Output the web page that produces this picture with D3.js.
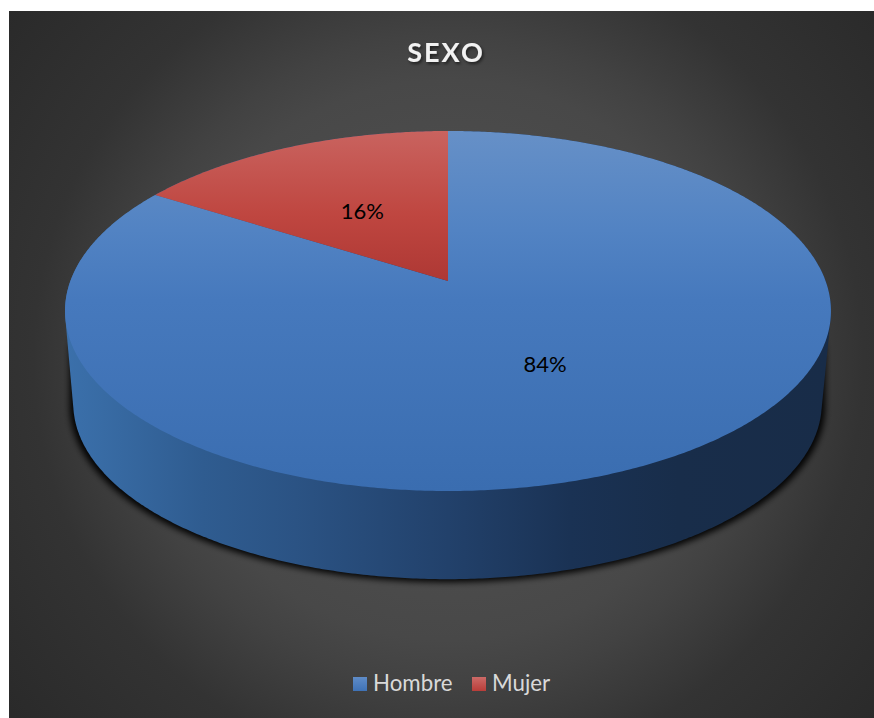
<!DOCTYPE html>
<html lang="es">
<head>
<meta charset="utf-8">
<title>SEXO</title>
<script src="https://cdn.jsdelivr.net/npm/d3@7"></script>
<style>
  html, body { margin: 0; padding: 0; background: #fff; }
  svg { display: block; }
  text { font-family: Lato, "Open Sans", sans-serif; }
</style>
</head>
<body>
<svg id="chart" width="874" height="718"></svg>
<script>
const chartTitle = "SEXO";
const categories = ["Hombre", "Mujer"];
const shares = [84, 16];
const legendKeys = ["blue", "red"];

const svg = d3.select("#chart");
const defs = svg.append("defs");

// Vertical shading of each slice and of the legend swatches
const faceStops = {
  blue: [[131, "#6690c7"], [230, "#5283c3"], [300, "#4679bd"], [491, "#3a6db0"]],
  red:  [[131, "#c9635f"], [215, "#bf4640"], [281, "#ae3834"]]
};
Object.entries(faceStops).forEach(([key, stops]) => {
  const g = defs.append("linearGradient")
    .attr("id", "face-" + key)
    .attr("gradientUnits", "userSpaceOnUse")
    .attr("x1", 0).attr("x2", 0)
    .attr("y1", stops[0][0]).attr("y2", stops[stops.length - 1][0]);
  const y = d3.scaleLinear().domain([stops[0][0], stops[stops.length - 1][0]]).range([0, 1]);
  stops.forEach(s => g.append("stop").attr("offset", y(s[0])).attr("stop-color", s[1]));
});

const swatchStops = { blue: ["#5f8cc8", "#3f72b6"], red: ["#cc6a67", "#b93d39"] };
Object.entries(swatchStops).forEach(([key, c]) => {
  const g = defs.append("linearGradient").attr("id", "swatch-" + key)
    .attr("x1", 0).attr("x2", 0).attr("y1", 0).attr("y2", 1);
  g.append("stop").attr("offset", 0).attr("stop-color", c[0]);
  g.append("stop").attr("offset", 1).attr("stop-color", c[1]);
});

// Backdrop glow
const glow = defs.append("radialGradient")
  .attr("id", "backdrop")
  .attr("gradientUnits", "userSpaceOnUse")
  .attr("cx", 448).attr("cy", 360).attr("r", 561);
[[0, "#555555"], [0.5, "#484848"], [0.58, "#424242"], [0.74, "#333333"], [1, "#2a2a2a"]]
  .forEach(s => glow.append("stop").attr("offset", s[0]).attr("stop-color", s[1]));

// Cylinder wall, lit from the left
const wall = defs.append("linearGradient")
  .attr("id", "wall")
  .attr("gradientUnits", "userSpaceOnUse")
  .attr("x1", 65).attr("x2", 831).attr("y1", 0).attr("y2", 0);
[[0, "#3b70ab"], [0.05, "#386ba4"], [0.18, "#2f5c90"], [0.3, "#2b5384"], [0.5, "#22416b"], [0.66, "#1a3254"], [0.8, "#182d4a"], [1, "#182c48"]]
  .forEach(s => wall.append("stop").attr("offset", s[0]).attr("stop-color", s[1]));

const soft = defs.append("filter").attr("id", "soft")
  .attr("x", "-5%").attr("y", "-5%").attr("width", "110%").attr("height", "110%");
soft.append("feGaussianBlur").attr("stdDeviation", 3);

const titleShadow = defs.append("filter").attr("id", "title-shadow")
  .attr("x", "-20%").attr("y", "-20%").attr("width", "140%").attr("height", "150%");
titleShadow.append("feDropShadow").attr("dx", 1.5).attr("dy", 2).attr("stdDeviation", 1.5)
  .attr("flood-color", "#000").attr("flood-opacity", 0.55);

svg.append("rect").attr("x", 9).attr("y", 11).attr("width", 865).attr("height", 707)
  .attr("fill", "url(#backdrop)");

// Perspective mapping of the unit disk onto the tilted pie
function projector(cx, cy, a, b, k) {
  return (angle, r = 1) => {
    const u = r * Math.sin(angle), v = r * Math.cos(angle), w = 1 + k * v;
    return [cx + a * u / w, cy - b * v / w];
  };
}
const topRim = projector(448, 281, 377.6, 175, 1 / 6);
const baseRim = projector(447.5, 374, 369, 171, 1 / 6);
const shadowFoot = projector(447.5, 377, 372.5, 171, 1 / 6);
const shadowHead = projector(447.5, 330, 372.5, 140, 1 / 6);

const arcs = d3.pie().sort(null).value(d => d)(shares);
const turnSamples = d3.range(0, 720).map(i => i / 720 * 2 * Math.PI);
const line = d3.line();

// Shadow cast below the base, kept under the face so the back edge stays clean
const shadowHull = d3.polygonHull(turnSamples.flatMap(t => [shadowFoot(t), shadowHead(t)]));
svg.append("path")
  .attr("d", line(shadowHull) + "Z")
  .attr("fill", "#000").attr("fill-opacity", 0.95)
  .attr("filter", "url(#soft)");

// Side wall follows the silhouette of both rims
const hull = d3.polygonHull(turnSamples.flatMap(t => [topRim(t), baseRim(t)]));
svg.append("path")
  .attr("d", line(hull) + "Z")
  .attr("fill", "url(#wall)");

// Slice faces
svg.append("g").selectAll("path").data(arcs).join("path")
  .attr("d", d => {
    const n = Math.ceil((d.endAngle - d.startAngle) / (2 * Math.PI) * 720);
    const pts = d3.range(n + 1).map(i => topRim(d.startAngle + (d.endAngle - d.startAngle) * i / n));
    return line([topRim(0, 0), ...pts]) + "Z";
  })
  .attr("fill", (d, i) => `url(#face-${legendKeys[i]})`);

// Percentage labels at mid-radius of each slice
const labelNudge = [[-1, 0], [-1, 2]];
svg.append("g").selectAll("text").data(arcs).join("text")
  .attr("x", (d, i) => topRim((d.startAngle + d.endAngle) / 2, 0.5)[0] + labelNudge[i][0])
  .attr("y", (d, i) => topRim((d.startAngle + d.endAngle) / 2, 0.5)[1] + labelNudge[i][1])
  .attr("dy", "0.36em")
  .attr("text-anchor", "middle")
  .attr("font-size", 22)
  .attr("fill", "#000")
  .text(d => d.value + "%");

svg.append("text")
  .attr("x", 446).attr("y", 62)
  .attr("text-anchor", "middle")
  .attr("font-size", 27)
  .attr("font-weight", 700)
  .attr("letter-spacing", 2)
  .attr("fill", "#f2f2f2")
  .attr("filter", "url(#title-shadow)")
  .text(chartTitle);

// Legend
const legendX = d3.scaleOrdinal().domain(categories).range([353, 472]);
const legend = svg.append("g").selectAll("g").data(categories).join("g")
  .attr("transform", d => `translate(${legendX(d)},677)`);
legend.append("rect")
  .attr("width", 14).attr("height", 14)
  .attr("fill", (d, i) => `url(#swatch-${legendKeys[i]})`);
legend.append("text")
  .attr("x", 20).attr("y", 14)
  .attr("font-size", 22.3)
  .attr("fill", "#d9d9d9")
  .text(d => d);
</script>
</body>
</html>
